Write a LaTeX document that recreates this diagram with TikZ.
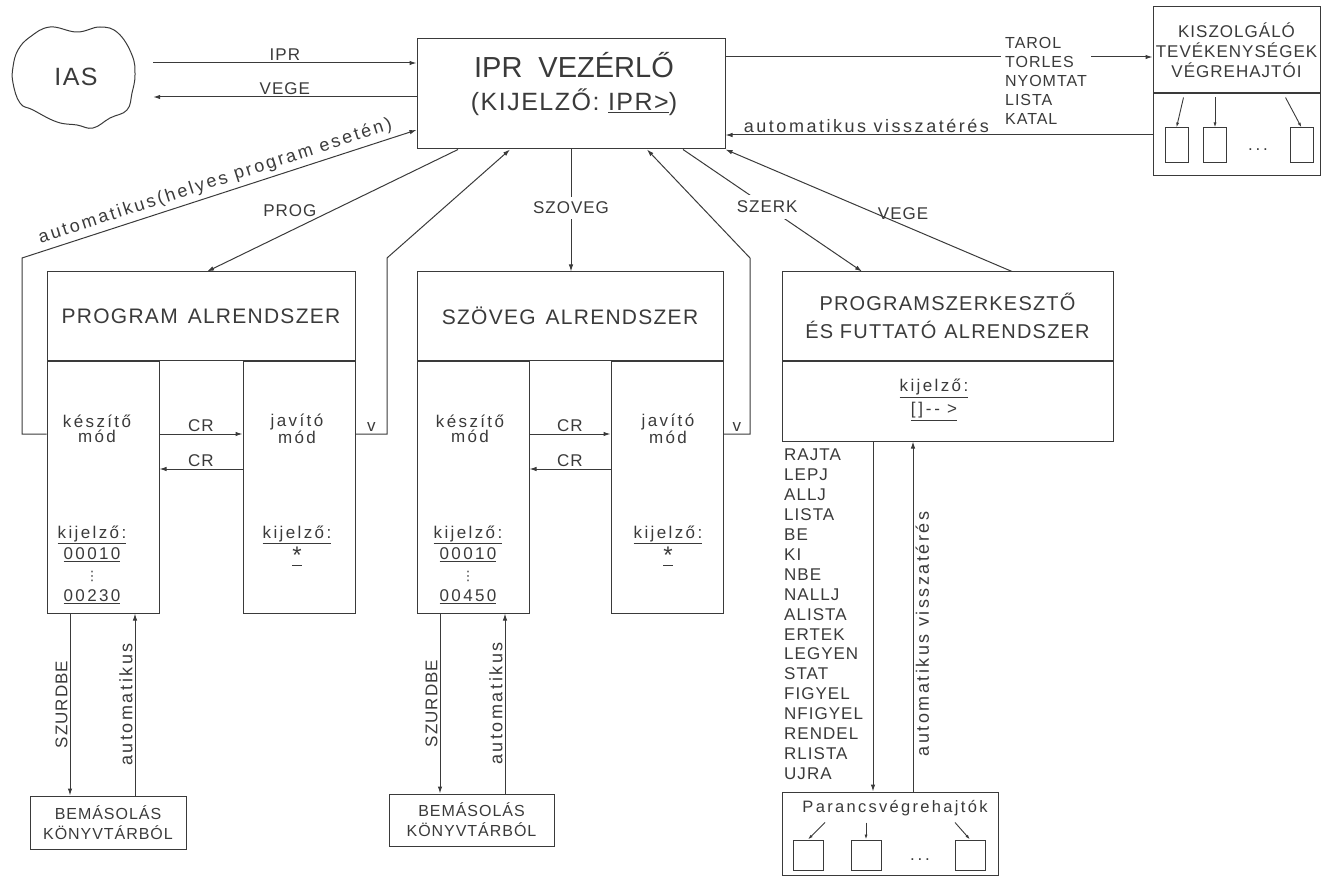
\documentclass[tikz,border=0pt]{standalone}
\usepackage{fontspec}
\setmainfont{Liberation Sans}[LetterSpace=6]
\newfontfamily\plainfont{Liberation Sans}
\newfontfamily\widefont{Liberation Sans}[LetterSpace=14]
\newfontfamily\symfont{DejaVu Sans}
\usetikzlibrary{arrows.meta,positioning,calc}
\definecolor{ink}{HTML}{3A3A3A}
\tikzset{
  box/.style={draw=ink,line width=1pt,text=ink,align=center,inner sep=2pt},
  wire/.style={draw=ink,line width=1pt},
  flow/.style={-{Latex[length=7pt,width=4.5pt]},draw=ink,line width=1pt},
  tinyflow/.style={-{Latex[length=5pt,width=3pt]},draw=ink,line width=0.9pt},
  lbl/.style={text=ink,inner sep=2pt,font=\fontsize{17}{19}\selectfont},
  note/.style={text=ink,inner sep=2pt,font=\widefont\fontsize{18}{20}\selectfont},
  title/.style={box,font=\fontsize{21}{28}\selectfont},
  leg/.style={box,minimum width=112pt,minimum height=252pt},
  modetext/.style={text=ink,align=center,inner sep=0pt,font=\widefont\fontsize{17}{15}\selectfont},
  showtext/.style={text=ink,align=center,inner sep=0pt,anchor=north,font=\widefont\fontsize{17}{21}\selectfont},
  unit/.style={draw=ink,line width=1pt,minimum width=30pt,minimum height=30pt,inner sep=0pt}
}
\newcommand{\vdotsmark}{{\symfont\fontsize{13}{13}\selectfont ⋮}}
\newcommand{\starmark}{\underline{\raisebox{-4pt}{\fontsize{24}{24}\selectfont *}}}

\begin{document}
\begin{tikzpicture}[x=1pt,y=-1pt]
  \path[use as bounding box] (0,0) rectangle (1322,877);

  % Controller and the calling system
  \node[box,minimum width=308pt,minimum height=110pt] (ipr) at (571,94) {};
  \node[text=ink,align=center,font=\fontsize{25}{33}\selectfont] (iprText) at (574,84)
    {{\plainfont\fontsize{29}{33}\selectfont IPR\hspace{16pt}VEZÉRLŐ}\\(KIJELZŐ: \underline{IPR>})};
  \node[text=ink,font=\fontsize{25}{25}\selectfont,minimum width=154pt,minimum height=100pt] (ias) at (76,77) {IAS};
  \draw[wire] plot[smooth cycle,tension=0.7] coordinates {(30,37) (50,27) (77,32) (100,27)
    (118,33) (132,55) (135,75) (132,93) (127,110) (110,118) (93,128) (77,125) (57,122)
    (33,110) (20,103) (13,83) (13,67) (18,50)};
  \draw[flow] ([yshift=14pt]ias.east) -- node[lbl,above] (iprLbl) {IPR} ([yshift=14pt]ias.east -| ipr.west);
  \draw[flow] ([yshift=-20pt]ias.east -| ipr.west) -- node[lbl,above] (endLbl) {VEGE} ([yshift=-20pt]ias.east);

  % Service executors on the right
  \node[box,minimum width=167pt,minimum height=86pt,inner sep=0pt,font=\fontsize{17}{20}\selectfont] (serve) at (1236.5,50)
    {KISZOLGÁLÓ\\TEVÉKENYSÉGEK\\VÉGREHAJTÓI};
  \node[box,minimum width=167pt,minimum height=82pt,below=0pt of serve] (serveUnits) {};
  \foreach \n/\x in {A/1176.5,B/1215,C/1301.5}
    \node[unit,minimum width=23pt,minimum height=35pt] (serve\n) at (\x,145.5) {};
  \node[lbl] (serveDots) at (1258,150) {.\,.\,.};
  \draw[tinyflow] ($(serveA.north)+(7,-30)$) -- (serveA.north);
  \draw[tinyflow] ($(serveB.north)+(0,-30)$) -- (serveB.north);
  \draw[tinyflow] ($(serveC.north)+(-16,-30)$) -- (serveC.north);
  \draw[flow] ([yshift=37pt]ipr.east) -- ([yshift=37pt]ipr.east -| serve.west);
  \node[lbl,fill=white,align=left,anchor=north west,inner sep=4pt,font=\fontsize{16}{19}\selectfont] (serveCmds) at (1001,33)
    {TAROL\\TORLES\\NYOMTAT\\LISTA\\KATAL};
  \draw[flow] ([yshift=-41pt]ipr.east -| serveUnits.west) -- node[note,above,pos=0.67] (backLbl)
    {automatikus visszatérés} ([yshift=-41pt]ipr.east);

  % Program and text subsystems
  \node[title,minimum width=308pt,minimum height=88pt] (prog) at (201,316) {PROGRAM\hspace{10pt}ALRENDSZER};
  \node[leg,anchor=north west] (progMake) at (prog.south west) {};
  \node[leg,anchor=north east] (progFix) at (prog.south east) {};
  \node[title,minimum width=306pt,minimum height=88pt] (szoveg) at (570,316) {SZÖVEG\hspace{10pt}ALRENDSZER};
  \node[leg,anchor=north west] (szovegMake) at (szoveg.south west) {};
  \node[leg,anchor=north east] (szovegFix) at (szoveg.south east) {};

  \node[modetext] (progMakeMode) at (97,429) {készítő\\mód};
  \node[modetext] (progFixMode) at (297,429) {javító\\mód};
  \node[showtext] (progMakeShow) at (92,526) {\underline{kijelző:}\\\underline{00010}\\\vdotsmark\\\underline{00230}};
  \node[showtext] (progFixShow) at (297,526) {\underline{kijelző:}\\\starmark};
  \node[modetext] (szovegMakeMode) at (470,429) {készítő\\mód};
  \node[modetext] (szovegFixMode) at (668,429) {javító\\mód};
  \node[showtext] (szovegMakeShow) at (468,526) {\underline{kijelző:}\\\underline{00010}\\\vdotsmark\\\underline{00450}};
  \node[showtext] (szovegFixShow) at (668,526) {\underline{kijelző:}\\\starmark};

  \node[box,minimum width=156pt,minimum height=53pt,font=\fontsize{16}{20}\selectfont] (progCopy) at (108,822.5)
    {BEMÁSOLÁS\\KÖNYVTÁRBÓL};
  \node[box,minimum width=165pt,minimum height=52pt,font=\fontsize{16}{20}\selectfont] (szovegCopy) at (471.5,820)
    {BEMÁSOLÁS\\KÖNYVTÁRBÓL};

  \foreach \s in {prog,szoveg}{
    \draw[flow] ([yshift=53pt]\s Make.east) -- node[lbl,above] (\s CrA) {CR} ([yshift=53pt]\s Fix.west);
    \draw[flow] ([yshift=18pt]\s Fix.west) -- node[lbl,above] (\s CrB) {CR} ([yshift=18pt]\s Make.east);
    \draw[flow] ([xshift=-33pt]\s Make.south) -- node[lbl,rotate=90,above] (\s Down) {SZURDBE}
      ([xshift=-33pt]\s Make.south |- \s Copy.north);
    \draw[flow] ([xshift=32pt]\s Make.south |- \s Copy.north) -- node[note,rotate=90,above] (\s Up) {automatikus}
      ([xshift=32pt]\s Make.south);
  }

  % Calls from the controller and the returns to it
  \draw[flow] ([xshift=-113pt]ipr.south) -- node[lbl,above=12pt,pos=0.67] (progLbl) {PROG} ([xshift=6pt]prog.north);
  \draw[flow] (ipr.south) -- node[lbl,fill=white,inner sep=5pt,pos=0.48] (szovegLbl) {SZOVEG} (ipr.south |- szoveg.north);
  \coordinate (progBackL) at (22,258);
  \draw[flow] ([yshift=53pt]progMake.west) -- ([yshift=53pt]progMake.west -| progBackL) -- (progBackL)
    -- node[note,above=2pt,sloped] (okLbl) {automatikus(helyes program esetén)} ([yshift=-36pt]ipr.west);
  \coordinate (progBackR) at (387,258);
  \draw[flow] ([yshift=53pt]progFix.east) -- node[lbl,above] (progV) {v} ([yshift=53pt]progFix.east -| progBackR)
    -- (progBackR) -- ([xshift=-61pt]ipr.south);
  \coordinate (szovegBackR) at (750,258);
  \draw[flow] ([yshift=53pt]szovegFix.east) -- node[lbl,above] (szovegV) {v} ([yshift=53pt]szovegFix.east -| szovegBackR)
    -- (szovegBackR) -- ([xshift=76pt]ipr.south);

  % Program editor and runner
  \node[title,minimum width=331pt,minimum height=88pt,font=\fontsize{20}{28}\selectfont] (szerk) at (947.5,316)
    {PROGRAMSZERKESZTŐ\\ÉS FUTTATÓ\hspace{8pt}ALRENDSZER};
  \node[box,minimum width=331pt,minimum height=80pt,anchor=north] (szerkShow) at (szerk.south) {};
  \node[showtext,anchor=center,font=\widefont\fontsize{17}{23}\selectfont] (szerkShowText) at (934,400) {\underline{kijelző:}\\\underline{[\,]\,-\,-\ >}};
  \draw[flow] ([xshift=112pt]ipr.south) -- node[lbl,fill=white,inner sep=6pt,pos=0.47] (szerkLbl) {SZERK}
    ([xshift=-85.5pt]szerk.north);
  \draw[flow] ([xshift=64.5pt]szerk.north) -- node[lbl,above=3pt,pos=0.38] (szerkEndLbl) {VEGE} (ipr.south east);

  \node[lbl,align=left,anchor=north west,inner sep=0pt,font=\fontsize{17}{19.9}\selectfont] (szerkCmds) at (784,449)
    {RAJTA\\LEPJ\\ALLJ\\LISTA\\BE\\KI\\NBE\\NALLJ\\ALISTA\\ERTEK\\LEGYEN\\STAT\\FIGYEL\\NFIGYEL\\RENDEL\\RLISTA\\UJRA};
  \node[box,minimum width=216pt,minimum height=83pt] (pcmd) at (890,833.5) {};
  \node[note,font=\widefont\fontsize{16.5}{18}\selectfont] (pcmdName) at (895,808) {Parancsvégrehajtók};
  \foreach \n/\x in {A/808,B/866,C/970}
    \node[unit] (pcmd\n) at (\x,855) {};
  \node[lbl] (pcmdDots) at (920,860) {.\,.\,.};
  \draw[tinyflow] ($(pcmdA.north)+(17,-17)$) -- (pcmdA.north);
  \draw[tinyflow] ($(pcmdB.north)+(0,-17)$) -- (pcmdB.north);
  \draw[tinyflow] ($(pcmdC.north)+(-15,-17)$) -- (pcmdC.north);
  \draw[flow] ([xshift=-74.5pt]szerkShow.south) -- ([xshift=-74.5pt]szerkShow.south |- pcmd.north);
  \draw[flow] ([xshift=-34.5pt]szerkShow.south |- pcmd.north) -- node[note,rotate=90,below,pos=0.45] (szerkBackLbl)
    {automatikus visszatérés} ([xshift=-34.5pt]szerkShow.south);
\end{tikzpicture}
\end{document}
